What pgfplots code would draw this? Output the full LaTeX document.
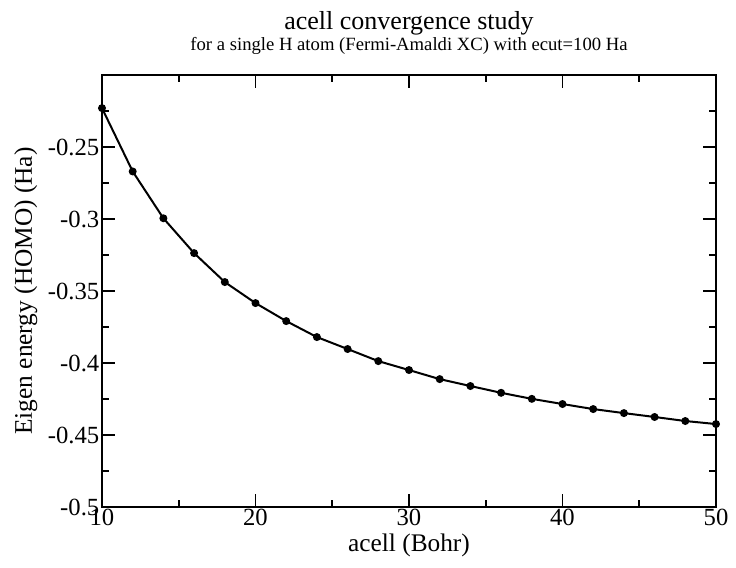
\documentclass[border=0pt]{standalone}
\usepackage{fontspec}
\setmainfont{Liberation Serif}
\usepackage{pgfplots}
\pgfplotsset{compat=1.18}
\usetikzlibrary{calc}

\begin{document}
\begin{tikzpicture}
\begin{axis}[
    name=ax,
    scale only axis,
    width=460.5pt, height=324pt,
    xmin=10, xmax=50,
    ymin=-0.5, ymax=-0.2,
    xtick={10,20,30,40,50},
    minor xtick={15,25,35,45},
    ytick={-0.5,-0.45,-0.4,-0.35,-0.3,-0.25},
    yticklabels={-0.5,-0.45,-0.4,-0.35,-0.3,-0.25},
    minor ytick={-0.475,-0.425,-0.375,-0.325,-0.275,-0.225},
    tick align=inside,
    major tick length=9.5pt,
    minor tick length=5pt,
    every tick/.style={line width=1.4pt, black},
    axis line style={line width=1.4pt},
    /pgf/number format/assume math mode=true,
    tick label style={font=\fontsize{18.5}{18.5}\selectfont},
    xticklabel style={yshift=2pt},
    yticklabel style={xshift=1.5pt},
    label style={font=\fontsize{19}{19}\selectfont},
    xlabel={acell (Bohr)},
    ylabel={Eigen energy (HOMO) (Ha)},
    xlabel style={at={(axis description cs:0.5,0)}, anchor=base, yshift=-33.5pt},
    ylabel style={at={(axis description cs:0,0.5)}, anchor=base, yshift=52.5pt},
]
\addplot[black, line width=1.5pt, mark=*, mark size=2.2pt] coordinates {
    (10,-0.223) (12,-0.267) (14,-0.2995) (16,-0.3237) (18,-0.3438)
    (20,-0.3584) (22,-0.3709) (24,-0.3820) (26,-0.3903) (28,-0.3987)
    (30,-0.4049) (32,-0.4112) (34,-0.4160) (36,-0.4207) (38,-0.4249)
    (40,-0.4285) (42,-0.4320) (44,-0.4348) (46,-0.4375) (48,-0.4403)
    (50,-0.4424)
};
\end{axis}
\node[anchor=base, font=\fontsize{19.5}{19.5}\selectfont] at ($(ax.north)+(0,34pt)$) {acell convergence study};
\node[anchor=base, font=\fontsize{14}{14}\selectfont] at ($(ax.north)+(0,18.5pt)$) {for a single H atom (Fermi-Amaldi XC) with ecut=100 Ha};
\pgfresetboundingbox
\path[use as bounding box] ($(ax.south west)+(-76.5pt,-45.75pt)$) rectangle ($(ax.north east)+(15pt,56.25pt)$);
\end{tikzpicture}
\end{document}
